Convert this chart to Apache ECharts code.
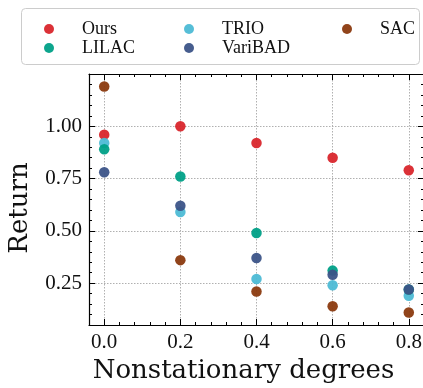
<!DOCTYPE html>
<html>
<head>
<meta charset="utf-8">
<script src="https://cdn.jsdelivr.net/npm/echarts@6/dist/echarts.min.js"></script>
<style>
  html, body { margin: 0; padding: 0; background: #fff; }
  #chart { width: 423px; height: 388px; }
</style>
</head>
<body>
<div id="chart"></div>
<script>
// data
const degrees = [0, 0.2, 0.4, 0.6, 0.8];
const ours    = [0.96, 1.00, 0.92, 0.85, 0.79];
const lilac   = [0.89, 0.76, 0.49, 0.31, 0.22];
const trio    = [0.92, 0.59, 0.27, 0.24, 0.19];
const varibad = [0.78, 0.62, 0.37, 0.29, 0.22];
const sac     = [1.19, 0.36, 0.21, 0.14, 0.11];

const xTicks = [0, 0.2, 0.4, 0.6, 0.8];
const yTicks = [0.25, 0.5, 0.75, 1.0];

const colors = {
  Ours: '#d9262c',
  LILAC: '#00a087',
  TRIO: '#4dbbd5',
  VariBAD: '#3c5488',
  SAC: '#8b3a0f'
};

const tickFont = 'Liberation Serif';
const labelFont = 'DejaVu Serif';

function pairs(ys) {
  return degrees.map((x, i) => [x, ys[i]]);
}

// axis helpers: major axis (line, long ticks, labels, grid), minor axis (short ticks only)
function xMajor(pos, labels) {
  return {
    type: 'value', position: pos, min: -0.04, max: 0.84, interval: 0.04,
    axisLine: { show: true, onZero: false, lineStyle: { color: '#000', width: 1.2 } },
    axisTick: { show: true, inside: true, length: 6, customValues: xTicks, lineStyle: { color: '#000' } },
    axisLabel: {
      show: labels, customValues: xTicks, margin: 7,
      formatter: v => v.toFixed(1),
      fontFamily: tickFont, fontSize: 21, color: '#111'
    },
    splitLine: labels ? { show: true, lineStyle: { color: '#b0b0b0', width: 1, type: [1.5, 1.5] } } : { show: false },
    name: labels ? 'Nonstationary degrees' : '',
    nameLocation: 'middle', nameGap: 28,
    nameTextStyle: { fontFamily: labelFont, fontSize: 26, color: '#111', padding: [0, 26, 0, 0] }
  };
}
function xMinor(pos) {
  return {
    type: 'value', position: pos, min: -0.04, max: 0.84, interval: 0.04,
    axisLine: { show: false, onZero: false },
    axisTick: { show: true, inside: true, length: 3, lineStyle: { color: '#000' } },
    axisLabel: { show: false }, splitLine: { show: false }
  };
}
function yMajor(pos, labels) {
  return {
    type: 'value', position: pos, min: 0.05, max: 1.25, interval: 0.05,
    axisLine: { show: true, onZero: false, lineStyle: { color: '#000', width: 1.2 } },
    axisTick: { show: true, inside: true, length: 6, customValues: yTicks, lineStyle: { color: '#000' } },
    axisLabel: {
      show: labels, customValues: yTicks, margin: 7,
      formatter: v => v.toFixed(2),
      fontFamily: tickFont, fontSize: 21, color: '#111'
    },
    splitLine: labels ? { show: true, lineStyle: { color: '#b0b0b0', width: 1, type: [1.5, 1.5] } } : { show: false },
    name: labels ? 'Return' : '',
    nameLocation: 'middle', nameGap: 56,
    nameTextStyle: { fontFamily: labelFont, fontSize: 26, color: '#111', padding: [0, 17, 0, 0] }
  };
}
function yMinor(pos) {
  return {
    type: 'value', position: pos, min: 0.05, max: 1.25, interval: 0.05,
    axisLine: { show: false, onZero: false },
    axisTick: { show: true, inside: true, length: 3, lineStyle: { color: '#000' } },
    axisLabel: { show: false }, splitLine: { show: false }
  };
}

function legendCol(left, names) {
  return {
    orient: 'vertical', left: left, top: 15,
    data: names, icon: 'circle', itemWidth: 10, itemHeight: 10, itemGap: 1,
    textStyle: { fontFamily: tickFont, fontSize: 18, color: '#111', lineHeight: 14, padding: [0, 0, 0, 23] }
  };
}

function scatter(name, ys) {
  return {
    name: name, type: 'scatter', data: pairs(ys),
    symbolSize: 10.5, itemStyle: { color: colors[name], opacity: 0.95 }
  };
}

const chart = echarts.init(document.getElementById('chart'), null, { renderer: 'canvas' });
chart.setOption({
  animation: false,
  grid: { left: 89, top: 74, width: 335, height: 251, containLabel: false, outerBoundsMode: 'none' },
  legend: [
    legendCol(39, ['Ours', 'LILAC']),
    legendCol(179, ['TRIO', 'VariBAD']),
    legendCol(337, ['SAC'])
  ],
  graphic: [{
    type: 'rect', left: 19, top: 6, silent: true,
    shape: { width: 398, height: 56, r: 4 },
    style: { fill: 'none', stroke: '#cccccc', lineWidth: 1 }
  }],
  xAxis: [xMajor('bottom', true), xMinor('bottom'), xMajor('top', false), xMinor('top')],
  yAxis: [yMajor('left', true), yMinor('left'), yMajor('right', false), yMinor('right')],
  series: [
    scatter('Ours', ours),
    scatter('TRIO', trio),
    scatter('LILAC', lilac),
    scatter('VariBAD', varibad),
    scatter('SAC', sac)
  ]
});
</script>
</body>
</html>
